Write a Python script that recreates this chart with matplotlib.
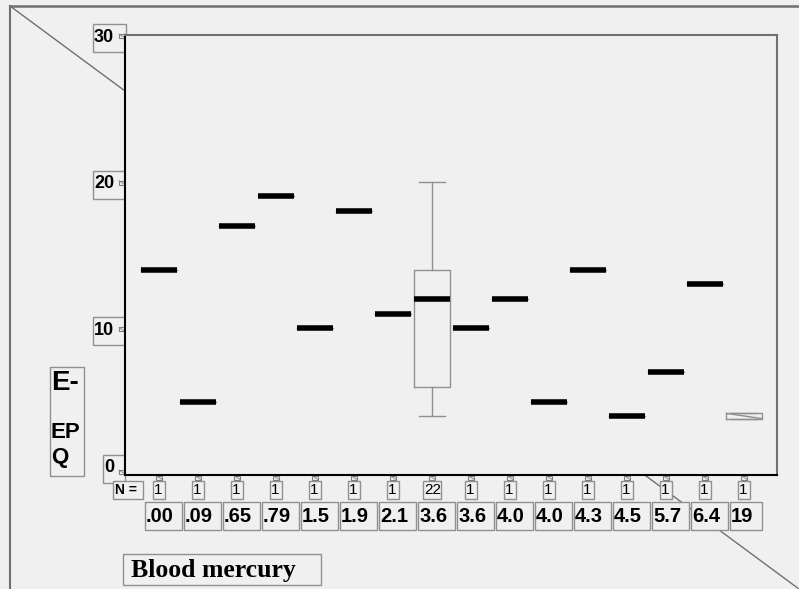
import matplotlib
matplotlib.use("Agg")
import matplotlib.pyplot as plt
from matplotlib.patches import Rectangle

# 数据
x_labels = ['.00', '.09', '.65', '.79', '1.5', '1.9', '2.1', '3.6',
            '3.6', '4.0', '4.0', '4.3', '4.5', '5.7', '6.4', '19']
n_counts = [1, 1, 1, 1, 1, 1, 1, 22, 1, 1, 1, 1, 1, 1, 1, 1]
medians = [14, 5, 17, 19, 10, 18, 11, 12, 10, 12, 5, 14, 4, 7, 13, 4]
q1_vals = [14, 5, 17, 19, 10, 18, 11, 6, 10, 12, 5, 14, 4, 7, 13, 3.85]
q3_vals = [14, 5, 17, 19, 10, 18, 11, 14, 10, 12, 5, 14, 4, 7, 13, 4.2]
whis_lo = [14, 5, 17, 19, 10, 18, 11, 4, 10, 12, 5, 14, 4, 7, 13, 3.85]
whis_hi = [14, 5, 17, 19, 10, 18, 11, 20, 10, 12, 5, 14, 4, 7, 13, 4.2]
y_ticks = [0, 10, 20, 30]

W, H = 799, 589
BG = '#f0f0f0'
EDGE = '#909090'
FRAME = '#707070'
plt.rcParams["font.family"] = ["Liberation Sans", "DejaVu Sans"]

fig = plt.figure(figsize=(W / 100, H / 100), dpi=100, facecolor=BG)
bg = fig.add_axes([0, 0, 1, 1])
bg.set_xlim(0, W)
bg.set_ylim(H, 0)
bg.axis('off')
bg.set_zorder(0)

ax = fig.add_axes([125 / W, (H - 475) / H, 652 / W, 440 / H], facecolor=BG)
ax.set_zorder(1)

# 外框和对角线
bg.plot([10, 10], [6, H], color=FRAME, lw=1.5, zorder=1)
bg.plot([10, W], [6, 6], color=FRAME, lw=1.8, zorder=1)
bg.plot([10, W], [6, H], color=FRAME, lw=1, zorder=1)

# 箱线图
stats = []
for i in range(len(medians)):
    stats.append(dict(med=medians[i], q1=q1_vals[i], q3=q3_vals[i],
                      whislo=whis_lo[i], whishi=whis_hi[i], fliers=[]))

common = dict(widths=0.92, capwidths=0.67, showfliers=False,
              boxprops=dict(color=EDGE, lw=1),
              whiskerprops=dict(color=EDGE, lw=1),
              capprops=dict(color=EDGE, lw=1))
ax.bxp(stats[:-1], positions=list(range(len(stats) - 1)),
       medianprops=dict(color='black', lw=4, solid_capstyle='butt'), **common)
last = len(stats) - 1
ax.bxp([stats[-1]], positions=[last], medianprops=dict(lw=0), **common)
ax.plot([last - 0.45, last + 0.45], [q3_vals[-1], q1_vals[-1]], color=EDGE, lw=1)

ax.set_xlim(-0.872, 15.846)
ax.set_ylim(0, 30)
ax.set_xticks([])
ax.set_yticks([])
for side in ['left', 'bottom']:
    ax.spines[side].set_color('black')
    ax.spines[side].set_linewidth(1.5)
for side in ['top', 'right']:
    ax.spines[side].set_color(FRAME)
    ax.spines[side].set_linewidth(1.5)


def px(x, y):
    d = ax.transData.transform((x, y))
    return d[0], H - d[1]


def box(x, y, w, h):
    bg.add_patch(Rectangle((x, y), w, h, fc=BG, ec=EDGE, lw=1, zorder=2))


def mark(x, y):
    bg.add_patch(Rectangle((x - 3, y - 2), 6, 4, fc='none', ec='#808080', lw=0.8, zorder=3))
    bg.plot([x - 3, x + 3], [y - 2, y + 2], color='#808080', lw=0.6, zorder=3)


# y 轴刻度标签
for v in y_ticks:
    _, py = px(0, v)
    if v == 0:
        box(103, py - 20, 22, 28)
        bg.text(104, py - 8, str(v), fontsize=13, fontweight='bold', va='center', zorder=4)
        mark(122, py - 3)
    else:
        box(93, py - 11, 33, 28)
        bg.text(94, py + 2, str(v), fontsize=13, fontweight='bold', va='center', zorder=4)
        mark(122, py + 1)

# N = 行
box(113, 481, 30, 18)
bg.text(115, 490, 'N =', fontsize=10, fontweight='bold', va='center', zorder=4)
for i, n in enumerate(n_counts):
    cx, _ = px(i, 0)
    t = str(n)
    w = 6 + 6 * len(t)
    box(cx - w / 2, 481, w, 18)
    bg.text(cx - w / 2 + 1, 490.5, t, fontsize=11, va='center', zorder=4)
    mark(cx, 477.5)

# x 轴类别标签
for i, lab in enumerate(x_labels):
    cx, _ = px(i, 0)
    w = 37 if i < len(x_labels) - 1 else 32
    box(cx - 14, 502, w, 28)
    bg.text(cx - 13, 516, lab, fontsize=14.5, fontweight='bold', va='center', zorder=4)

# 轴标题
box(50, 367, 34, 109)
bg.text(51, 383, 'E-', fontsize=20, fontweight='bold', va='center', zorder=4)
bg.text(51, 432, 'EP', fontsize=16, fontweight='bold', va='center', zorder=4)
bg.text(51, 457, 'Q', fontsize=16, fontweight='bold', va='center', zorder=4)

box(123, 554, 198, 31)
bg.text(131, 570, 'Blood mercury', fontsize=18.5, fontweight='bold',
        family=['Liberation Serif', 'DejaVu Serif'], va='center', zorder=4)

fig.savefig('out.png', dpi=100, facecolor=BG)
